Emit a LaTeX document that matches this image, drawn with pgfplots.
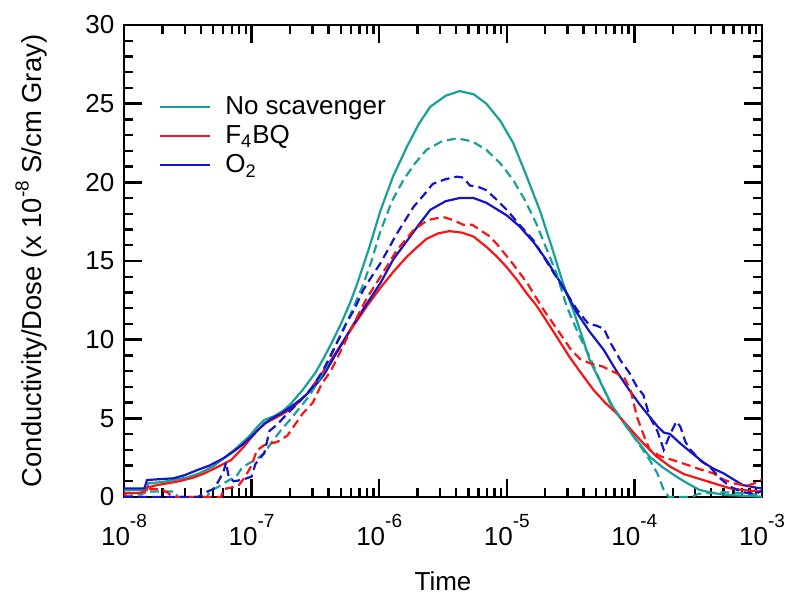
\documentclass[border=0pt]{standalone}
\usepackage{fontspec}
\setmainfont{Liberation Sans}
\usepackage{pgfplots}
\usepackage{pgfplotstable}
\pgfplotsset{compat=1.18}
\definecolor{cteal}{RGB}{25,160,155}
\definecolor{cred}{RGB}{250,20,20}
\definecolor{cblue}{RGB}{20,20,200}
\newcommand{\tex}[1]{10\raisebox{9.1pt}{\fontsize{9.5}{10}\selectfont #1}}

\pgfplotstableread{
lx v
-8.00 0.45
-7.82 0.45
-7.81 0.87
-7.70 0.95
-7.61 1.08
-7.50 1.25
-7.41 1.50
-7.30 1.95
-7.22 2.46
-7.12 3.10
-7.02 3.85
-6.95 4.50
-6.90 4.90
-6.82 5.15
-6.75 5.50
-6.69 5.95
-6.60 6.80
-6.50 7.90
-6.43 8.90
-6.36 10.0
-6.30 11.0
-6.23 12.3
-6.17 13.6
-6.08 15.8
-5.99 18.2
-5.89 20.4
-5.78 22.3
-5.69 23.7
-5.60 24.8
-5.48 25.5
-5.37 25.8
-5.26 25.6
-5.16 25.0
-5.05 23.9
-4.95 22.5
-4.85 20.5
-4.74 18.2
-4.64 15.7
-4.56 13.6
-4.48 11.9
-4.41 10.2
-4.35 8.7
-4.26 7.2
-4.17 5.74
-4.06 4.45
-3.97 3.5
-3.88 2.56
-3.78 1.9
-3.67 1.29
-3.58 0.85
-3.49 0.45
-3.38 0.25
-3.28 0.13
-3.00 0.02
}\nssolid

\pgfplotstableread{
lx v
-8.00 0.0
-7.92 0.15
-7.86 0.15
-7.84 0.35
-7.60 0.35
-7.58 0.0
-7.35 0.0
-7.32 0.45
-7.27 0.6
-7.22 0.87
-7.17 1.1
-7.12 1.3
-7.08 1.8
-7.03 2.1
-6.96 2.4
-6.90 2.8
-6.84 3.5
-6.77 4.25
-6.70 4.9
-6.62 5.7
-6.55 6.4
-6.49 7.2
-6.42 8.2
-6.36 9.3
-6.29 10.5
-6.22 11.7
-6.13 13.4
-6.06 15.0
-5.99 16.9
-5.90 18.8
-5.81 20.15
-5.72 21.2
-5.63 22.06
-5.51 22.6
-5.39 22.8
-5.27 22.6
-5.16 22.06
-5.05 21.2
-4.95 20.15
-4.86 18.9
-4.77 17.4
-4.69 15.8
-4.61 14.2
-4.53 12.1
-4.44 10.4
-4.35 8.9
-4.27 7.4
-4.19 5.96
-4.06 4.45
-3.95 3.2
-3.88 2.35
-3.82 1.5
-3.77 0.45
-3.73 0.0
-3.55 0.0
-3.50 0.2
-3.30 0.3
-3.15 0.25
-3.00 0.1
}\nsdash

\pgfplotstableread{
lx v
-8.00 0.25
-7.84 0.25
-7.82 0.6
-7.74 0.76
-7.60 0.95
-7.53 1.08
-7.45 1.25
-7.37 1.5
-7.27 1.9
-7.16 2.35
-7.06 3.2
-6.96 4.2
-6.89 4.7
-6.82 5.0
-6.73 5.4
-6.64 5.95
-6.56 6.6
-6.49 7.4
-6.41 8.3
-6.33 9.3
-6.25 10.3
-6.17 11.25
-6.09 12.2
-5.99 13.3
-5.88 14.4
-5.78 15.3
-5.70 15.9
-5.63 16.4
-5.54 16.75
-5.45 16.9
-5.35 16.8
-5.26 16.55
-5.16 15.9
-5.08 15.3
-5.00 14.6
-4.92 13.8
-4.84 12.9
-4.77 12.2
-4.71 11.46
-4.61 10.2
-4.51 8.92
-4.42 7.9
-4.32 6.8
-4.23 6.0
-4.14 5.32
-4.04 4.4
-3.93 3.41
-3.83 2.6
-3.72 1.93
-3.61 1.45
-3.49 1.15
-3.37 0.85
-3.25 0.55
-3.12 0.42
-3.00 0.34
}\fsolid

\pgfplotstableread{
lx v
-8.00 0.0
-7.98 0.25
-7.88 0.25
-7.80 0.5
-7.72 0.5
-7.66 0.3
-7.62 0.0
-7.24 0.0
-7.22 0.5
-7.16 0.6
-7.10 0.75
-7.05 1.3
-7.00 2.0
-6.96 2.95
-6.90 3.3
-6.80 3.5
-6.72 3.9
-6.66 4.6
-6.60 5.3
-6.52 6.0
-6.45 7.2
-6.38 8.0
-6.30 9.3
-6.20 11.0
-6.10 12.6
-5.99 14.0
-5.86 15.7
-5.73 16.97
-5.62 17.6
-5.50 17.8
-5.42 17.6
-5.34 17.3
-5.27 17.3
-5.21 16.97
-5.14 16.6
-5.08 16.1
-4.96 14.9
-4.84 13.6
-4.72 12.0
-4.60 10.6
-4.50 9.4
-4.43 8.8
-4.35 8.5
-4.25 8.3
-4.14 7.86
-4.08 7.6
-4.03 6.8
-3.98 5.1
-3.93 4.0
-3.88 3.0
-3.80 2.6
-3.72 2.4
-3.62 2.14
-3.50 1.8
-3.38 1.5
-3.30 1.1
-3.22 0.87
-3.12 0.7
-3.05 0.9
-3.00 1.1
}\fdash

\pgfplotstableread{
lx v
-8.00 0.55
-7.84 0.55
-7.82 1.08
-7.61 1.19
-7.52 1.4
-7.43 1.7
-7.33 2.0
-7.22 2.46
-7.14 2.9
-7.06 3.4
-6.98 4.0
-6.90 4.66
-6.84 5.0
-6.77 5.3
-6.68 5.8
-6.59 6.36
-6.51 7.0
-6.43 7.8
-6.36 8.8
-6.28 9.9
-6.20 11.0
-6.12 12.0
-5.99 13.6
-5.89 15.1
-5.78 16.3
-5.69 17.3
-5.60 18.25
-5.48 18.8
-5.37 19.0
-5.26 19.0
-5.16 18.7
-5.11 18.45
-5.00 17.9
-4.90 17.2
-4.79 16.2
-4.69 15.07
-4.56 13.37
-4.45 11.7
-4.35 10.5
-4.24 9.35
-4.14 8.0
-4.04 6.8
-3.96 5.9
-3.88 5.1
-3.82 4.5
-3.77 4.1
-3.72 4.0
-3.64 3.4
-3.55 2.8
-3.46 2.2
-3.38 1.8
-3.30 1.5
-3.22 1.1
-3.15 0.76
-3.05 0.6
-3.00 0.55
}\osolid

\pgfplotstableread{
lx v
-8.00 0.0
-7.42 0.0
-7.36 0.3
-7.30 0.5
-7.26 1.0
-7.22 1.6
-7.20 2.2
-7.18 1.3
-7.14 1.0
-7.07 1.1
-7.00 1.3
-6.97 2.1
-6.90 2.8
-6.86 4.2
-6.80 4.6
-6.72 5.3
-6.62 6.1
-6.52 7.0
-6.43 8.2
-6.35 9.5
-6.26 11.0
-6.19 12.0
-6.125 13.16
-6.06 14.0
-5.99 14.86
-5.86 16.76
-5.73 18.45
-5.65 19.2
-5.58 19.9
-5.48 20.2
-5.39 20.36
-5.34 20.3
-5.29 19.8
-5.22 19.7
-5.16 19.5
-5.08 18.9
-5.00 18.25
-4.90 17.3
-4.79 16.3
-4.66 14.6
-4.55 13.2
-4.45 11.9
-4.36 11.0
-4.30 10.9
-4.24 10.7
-4.18 9.7
-4.11 8.7
-4.04 7.9
-3.98 7.0
-3.93 6.5
-3.88 5.1
-3.82 4.2
-3.77 3.0
-3.72 4.0
-3.67 4.8
-3.64 4.47
-3.60 3.5
-3.56 3.0
-3.48 2.3
-3.41 1.93
-3.33 1.2
-3.25 0.66
-3.15 0.3
-3.05 0.2
-3.00 0.4
}\odash

\begin{document}
\begin{tikzpicture}
\path[use as bounding box] (-62pt,-48.5pt) rectangle (330.5pt,248.5pt);
\begin{axis}[
  at={(0pt,0pt)}, anchor=south west,
  scale only axis, width=319pt, height=236pt,
  xmode=log, log basis x=10,
  xmin=1e-8, xmax=1e-3, ymin=0, ymax=30,
  axis line style={line width=1.4pt},
  every tick/.style={black, line width=1.2pt},
  major tick length=9pt, minor tick length=4.5pt,
  tick align=inside,
  xtick={1e-8,1e-7,1e-6,1e-5,1e-4,1e-3},
  xticklabels={\tex{-8},\tex{-7},\tex{-6},\tex{-5},\tex{-4},\tex{-3}},
  minor xtick={2e-8,3e-8,4e-8,5e-8,6e-8,7e-8,8e-8,9e-8,
    2e-7,3e-7,4e-7,5e-7,6e-7,7e-7,8e-7,9e-7,
    2e-6,3e-6,4e-6,5e-6,6e-6,7e-6,8e-6,9e-6,
    2e-5,3e-5,4e-5,5e-5,6e-5,7e-5,8e-5,9e-5,
    2e-4,3e-4,4e-4,5e-4,6e-4,7e-4,8e-4,9e-4},
  ytick={0,5,10,15,20,25,30}, minor y tick num=4,
  /pgf/number format/assume math mode=true,
  tick label style={font=\fontsize{13}{15}\selectfont},
  xticklabel style={yshift=-5pt},
  yticklabel style={xshift=-1.3pt},
  xlabel={Time},
  ylabel={Conductivity/Dose (x 10\raisebox{6.5pt}{\fontsize{9.5}{10}\selectfont -8} S/cm Gray)},
  every axis x label/.style={at={(axis description cs:0.5,-0.198)}, anchor=base, font=\fontsize{13}{15}\selectfont},
  every axis y label/.style={at={(axis description cs:-0.129,0.5)}, anchor=base, rotate=90, font=\fontsize{13.7}{16}\selectfont},
  legend style={at={(axis description cs:0.045,0.866)}, anchor=north west, draw=none, fill=none,
    font=\fontsize{13}{15}\selectfont, row sep=0pt},
  legend cell align=left,
  legend image code/.code={\draw[#1, solid] (0pt,0pt) -- (25pt,0pt); \path (30pt,0pt);},
  every axis plot/.append style={line width=1.1pt},
]
\addplot[cteal, no markers] table[x expr={10^(\thisrow{lx})}, y=v] {\nssolid};
\addlegendentry{No scavenger}
\addplot[cred, no markers] table[x expr={10^(\thisrow{lx})}, y=v] {\fsolid};
\addlegendentry{F\textsubscript{4}BQ}
\addplot[cblue, no markers] table[x expr={10^(\thisrow{lx})}, y=v] {\osolid};
\addlegendentry{O\textsubscript{2}}
\addplot[cteal, no markers, dash pattern=on 4.5pt off 2.5pt, forget plot] table[x expr={10^(\thisrow{lx})}, y=v] {\nsdash};
\addplot[cred, no markers, dash pattern=on 4.5pt off 2.5pt, forget plot] table[x expr={10^(\thisrow{lx})}, y=v] {\fdash};
\addplot[cblue, no markers, dash pattern=on 4.5pt off 2.5pt, forget plot] table[x expr={10^(\thisrow{lx})}, y=v] {\odash};
\end{axis}
\end{tikzpicture}
\end{document}
